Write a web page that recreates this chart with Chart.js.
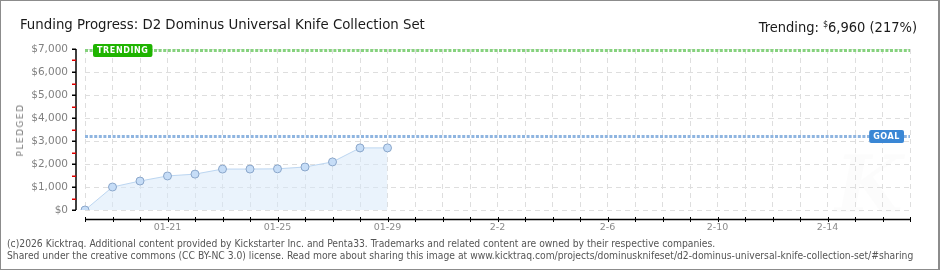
<!DOCTYPE html>
<html>
<head>
<meta charset="utf-8">
<script src="https://cdn.jsdelivr.net/npm/chart.js@4.4.1/dist/chart.umd.min.js"></script>
<style>
  body { margin: 0; background: #fff; }
  #wrap { position: relative; width: 940px; height: 270px; overflow: hidden;
          font-family: "DejaVu Sans Condensed", "DejaVu Sans", sans-serif; }
  #chart { position: absolute; left: 0; top: 0; }
  #frame { position: absolute; left: 0; top: 0; width: 940px; height: 270px; box-sizing: border-box;
           border: 1px solid #8c8c8c; border-right-width: 2px; pointer-events: none; }
  .title { position: absolute; left: 20px; top: 14px; font-size: 14.8px; line-height: 20px;
           color: #1a1a1a; white-space: nowrap; }
  .trend { position: absolute; right: 23px; top: 14px; font-size: 14.5px; line-height: 20px;
           color: #1a1a1a; white-space: nowrap; }
  .trend sup { font-size: 9px; vertical-align: 5px; margin-left: 4px; }
  .ylabel { position: absolute; left: 20px; top: 130px; transform: translate(-50%, -50%) rotate(-90deg);
            font-family: "DejaVu Sans", sans-serif; font-size: 9px; letter-spacing: 1.5px; color: #777; white-space: nowrap; }
  .foot { position: absolute; left: 7px; font-size: 10.25px; line-height: 13px; color: #555; white-space: nowrap; }
</style>
</head>
<body>
<div id="wrap">
  <canvas id="chart" width="940" height="270"></canvas>
  <div class="title">Funding Progress: D2 Dominus Universal Knife Collection Set</div>
  <div class="trend">Trending:<sup>$</sup>6,960 (217%)</div>
  <div class="ylabel">PLEDGED</div>
  <div class="foot" style="top:237px">(c)2026 Kicktraq. Additional content provided by Kickstarter Inc. and Penta33. Trademarks and related content are owned by their respective companies.</div>
  <div class="foot" style="top:249px">Shared under the creative commons (CC BY-NC 3.0) license. Read more about sharing this image at www.kicktraq.com/projects/dominusknifeset/d2-dominus-universal-knife-collection-set/#sharing</div>
  <div id="frame"></div>
</div>
<script>
// campaign days shown on the x axis
const days = [
  "01-18", "01-19", "01-20", "01-21", "01-22", "01-23", "01-24", "01-25",
  "01-26", "01-27", "01-28", "01-29", "01-30", "01-31",
  "2-1", "2-2", "2-3", "2-4", "2-5", "2-6", "2-7", "2-8", "2-9", "2-10",
  "2-11", "2-12", "2-13", "2-14", "2-15", "2-16", "2-17"
];
// pledged total per day (only the days so far)
const pledged = [0, 1000, 1260, 1480, 1560, 1780, 1780, 1790, 1870, 2090, 2700, 2700];

const goal = 3200;
const trending = 6960;

const yMin = 0;
const yMax = 7000;
const yStep = 1000;
const labelEvery = 4; // 01-21, 01-25, ...

function badge(ctx, text, x, y, color, alignRight) {
  ctx.save();
  ctx.font = "bold 8px 'DejaVu Sans', sans-serif";
  ctx.letterSpacing = "0.6px";
  const w = ctx.measureText(text).width + 8;
  const h = 13;
  const left = alignRight ? x - w : x;
  ctx.fillStyle = color;
  ctx.beginPath();
  ctx.roundRect(left, y - h / 2, w, h, 2);
  ctx.fill();
  ctx.fillStyle = "#fff";
  ctx.textBaseline = "middle";
  ctx.textAlign = "left";
  ctx.fillText(text, left + 4, y + 0.5);
  ctx.restore();
}

const kicktraqPlugin = {
  id: "kicktraq",
  beforeDraw(chart) {
    const ctx = chart.ctx;
    ctx.save();
    ctx.fillStyle = "#fff";
    ctx.fillRect(0, 0, chart.width, chart.height);
    // faint watermark
    ctx.fillStyle = "rgba(0,0,0,0.012)";
    ctx.font = "italic bold 78px 'DejaVu Serif', serif";
    ctx.fillText("K", 835, 212);
    ctx.restore();
  },
  afterDatasetsDraw(chart) {
    const ctx = chart.ctx;
    const area = chart.chartArea;
    const y = chart.scales.y;
    const lines = [
      { v: trending, color: "#86d27e", label: "TRENDING", badge: "#1fb400" },
      { v: goal, color: "#8fb5e0", label: "GOAL", badge: "#3a87d5" }
    ];
    lines.forEach((l) => {
      const py = Math.round(y.getPixelForValue(l.v)) + 0.5;
      ctx.save();
      ctx.strokeStyle = l.color;
      ctx.lineWidth = 3;
      ctx.setLineDash([3, 1.6]);
      ctx.beginPath();
      ctx.moveTo(area.left, py);
      ctx.lineTo(area.right, py);
      ctx.stroke();
      ctx.restore();
      if (l.label === "GOAL") badge(ctx, l.label, area.right - 6, py, l.badge, true);
      else badge(ctx, l.label, area.left + 8, py, l.badge, false);
    });
  },
  afterDraw(chart) {
    const ctx = chart.ctx;
    const area = chart.chartArea;
    const x = chart.scales.x;
    const y = chart.scales.y;
    ctx.save();
    // y axis line with major/minor ticks
    const ax = area.left - 9;
    ctx.strokeStyle = "#000";
    ctx.lineWidth = 1.5;
    ctx.beginPath();
    ctx.moveTo(ax, y.getPixelForValue(yMax));
    ctx.lineTo(ax, y.getPixelForValue(yMin));
    ctx.stroke();
    for (let v = yMin; v <= yMax; v += yStep / 2) {
      const py = Math.round(y.getPixelForValue(v));
      ctx.fillStyle = v % yStep === 0 ? "#000" : "#e00000";
      ctx.fillRect(ax - 4, py - 0.5, 4, 1.5);
    }
    // x axis line with a tick per day
    const ay = area.bottom + 9.5;
    ctx.strokeStyle = "#000";
    ctx.lineWidth = 1.5;
    ctx.beginPath();
    ctx.moveTo(area.left, ay);
    ctx.lineTo(area.right, ay);
    ctx.stroke();
    ctx.lineWidth = 1;
    days.forEach((d, i) => {
      const px = Math.round(x.getPixelForValue(i)) + 0.5;
      ctx.beginPath();
      ctx.moveTo(px, ay - 2.5);
      ctx.lineTo(px, ay + 2.5);
      ctx.stroke();
    });
    ctx.restore();
  }
};

new Chart(document.getElementById("chart"), {
  type: "line",
  data: {
    labels: days,
    datasets: [
      {
        label: "Pledged",
        data: pledged,
        borderColor: "#bcd6f1",
        borderWidth: 1,
        backgroundColor: "rgba(214,231,249,0.5)",
        fill: "origin",
        tension: 0,
        pointRadius: 4,
        pointBackgroundColor: "#c6ddf7",
        pointBorderColor: "#8ba7cb",
        pointBorderWidth: 1
      }
    ]
  },
  options: {
    responsive: false,
    animation: false,
    devicePixelRatio: 1,
    layout: { padding: { left: 0, top: 49, right: 30, bottom: 0 } },
    plugins: {
      legend: { display: false },
      tooltip: { enabled: false }
    },
    scales: {
      x: {
        type: "category",
        offset: false,
        afterFit: (s) => { s.height = 60; },
        grid: { color: "#dedede", lineWidth: 1, drawTicks: false },
        border: { display: false, dash: [5, 4] },
        ticks: {
          autoSkip: false,
          maxRotation: 0,
          padding: 12,
          color: "#8a8a8a",
          font: { family: "DejaVu Sans", size: 9.5 },
          callback: (v, i) => (i % labelEvery === 3 ? days[i] : "")
        }
      },
      y: {
        min: yMin,
        max: yMax,
        afterFit: (s) => { s.width = 85; },
        grid: { color: "#dedede", lineWidth: 1, drawTicks: false },
        border: { display: false, dash: [5, 4] },
        ticks: {
          stepSize: yStep,
          padding: 17,
          color: "#808080",
          font: { family: "DejaVu Sans", size: 10.5 },
          callback: (v) => "$" + v.toLocaleString("en-US")
        }
      }
    }
  },
  plugins: [kicktraqPlugin]
});
</script>
</body>
</html>
